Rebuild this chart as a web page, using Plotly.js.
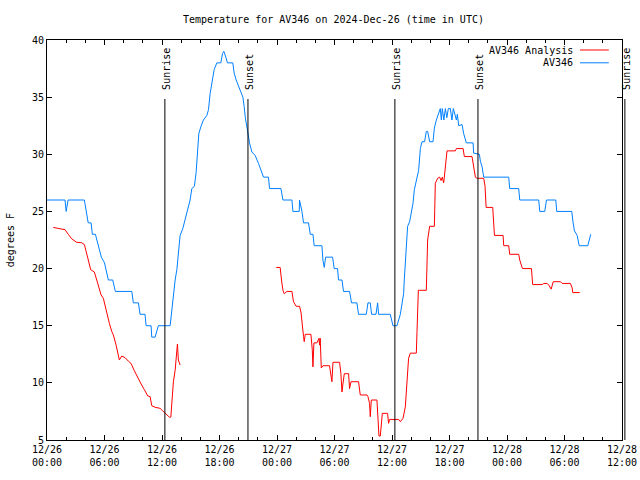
<!DOCTYPE html>
<html>
<head>
<meta charset="utf-8">
<script src="https://cdn.plot.ly/plotly-3.0.1.min.js"></script>
<style>html,body{margin:0;padding:0;background:#fff;}#chart{width:640px;height:480px;}</style>
</head>
<body>
<div id="chart"></div>
<script>
// Hours since 2024-12-26 00:00 UTC and temperatures (deg F)
const obsHours = [0,1.88,2.0,2.2,3.9,4.0,4.3,4.6,4.73,5.05,5.35,5.67,6.0,6.3,6.4,6.86,7.13,8.85,9.01,9.54,9.71,10.23,10.34,10.86,10.93,11.28,11.46,11.62,12.85,13.02,13.13,13.37,13.55,13.65,13.76,13.89,14.17,14.41,14.69,14.93,15.11,15.38,15.56,15.7,15.84,16.05,16.32,16.68,16.85,17.02,17.2,17.44,17.72,18.14,18.31,18.45,18.66,18.83,19.39,19.53,19.74,20.08,20.44,20.57,20.71,20.92,21.13,21.38,21.72,22.07,22.42,22.59,23.11,23.22,24.41,24.62,25.56,25.66,26.32,26.35,26.6,26.77,27.29,27.47,27.75,27.88,28.69,28.79,28.93,29.07,29.8,29.97,30.32,30.42,30.78,30.94,31.57,31.78,32.34,32.51,33.32,33.49,33.73,33.87,34.33,34.5,34.6,35.82,36.1,36.52,36.87,37.21,37.28,37.49,37.63,37.84,38.02,38.19,38.33,38.54,38.78,38.96,39.13,39.4,39.58,39.72,39.93,40.28,40.42,40.63,40.87,41.04,41.15,41.25,41.41,41.57,41.72,41.88,42.09,42.25,42.4,42.56,42.72,42.82,42.96,43.31,43.48,43.76,44.46,44.52,45.12,45.22,45.4,45.57,48.18,48.28,49.22,49.33,51.31,51.42,51.94,52.12,53.09,53.19,54.76,54.9,55.04,55.32,55.53,56.43,56.58,56.74];
const obsTemps = [26,26,25,26,26,25.5,24,24,23,23,22,21,20.5,19.5,19,19,18,18,17,17,16,16,15,15,14,14,14.5,15,15,16.5,17.5,19,19.9,21,22.2,22.9,23.5,24.25,25,26,27,27.2,28.4,30.1,31.8,32.4,33,33.4,33.9,35.3,36.35,37.4,38,38,38.8,39,38.5,38,38,37.1,36.5,35.8,35,34.2,33.1,32.1,31,30.2,29.9,29.2,28.3,28,28,27,27,26,26,25,25,26,25,24,24,23,23,22,22,20.75,20.1,21,21,20,20,19,19,18,18,17,17,16,16,17,17,16,16,17,16,16,15,15,16,17.8,19,21.9,23.7,24.1,24.8,25.7,26.9,27.75,28.6,30.5,31.1,31.1,32,32,31.1,31.1,32.3,33,33.7,34,33,34,33,34,33.2,34,34,33,34,33.5,33,33.5,32.5,32.6,31.8,31,31,30.1,30,29.4,28.9,28,28,27,27,26,26,25,25,26,26,25,25,24,23.3,22.9,22,22,22.5,23];

const anaHours = [0.66,1.36,1.88,2.22,2.58,3.1,3.62,3.9,4.07,4.31,4.56,4.94,5.19,5.46,5.64,5.88,6.06,6.3,6.51,6.76,6.92,7.21,7.42,7.55,7.8,8.15,8.49,8.77,9.09,9.47,9.82,10.16,10.52,10.76,10.93,11.28,11.8,12.08,12.43,12.77,12.92,13.05,13.19,13.37,13.55,13.61,13.71,13.89,18.9,23.92,24.33,24.47,24.62,24.75,25.03,25.56,25.72,26.0,26.35,26.5,26.63,26.77,26.84,26.95,27.54,27.68,27.75,27.85,28.17,28.38,28.44,28.51,28.62,28.79,29.48,29.63,29.73,29.84,30.53,30.67,30.78,30.88,31.02,31.47,31.57,31.72,32.51,32.69,33.39,33.49,33.66,33.73,33.84,34.43,34.54,34.64,34.78,34.88,34.99,35.54,35.64,35.75,36.69,36.87,37.15,37.39,37.57,37.73,37.91,38.54,38.61,38.75,39.58,39.65,39.72,39.93,40.42,40.52,40.76,40.97,41.12,41.25,41.39,41.46,41.64,41.74,42.61,42.72,43.42,43.55,44.35,44.52,44.7,44.88,45.57,45.71,45.74,45.82,46.51,46.61,46.69,47.59,47.66,48.18,48.28,49.22,49.33,49.61,50.55,50.68,51.67,51.84,52.19,52.36,52.61,52.82,53.58,53.76,54.62,54.8,54.86,55.59];
const anaTemps = [23.6,23.5,23.4,23.0,22.6,22.3,22.26,22.1,21.6,20.75,19.9,19.7,19.0,18.3,17.7,17.4,16.7,15.9,15.2,14.5,14.2,13.3,12.6,12.0,12.35,12.2,11.9,11.7,11.1,10.4,9.9,9.4,8.85,8.8,8.0,7.86,7.77,7.54,7.25,7.0,7.0,8.35,10.1,11.1,12.9,13.4,12.0,11.56,null,20.1,20.1,19.0,18.1,17.8,18.0,18.0,17.1,16.7,16.7,16.2,14.8,14.05,13.6,14.25,14.25,12.9,11.4,13.5,13.5,13.9,13.3,13.9,11.3,11.5,11.5,10.5,10.1,11.8,11.8,10.8,9.2,9.9,10.8,10.8,9.5,10.1,10.1,8.94,8.94,8.8,8.2,7.04,8.5,8.5,6.9,5.35,5.35,6.46,7.33,7.33,6.46,6.8,6.8,6.6,6.9,7.9,10.25,12.15,12.6,12.6,14.5,18.1,18.1,20.1,22.5,23.7,23.7,27.46,27.9,28.0,27.7,28.0,27.5,28.0,29.5,30.3,30.3,30.5,30.5,29.8,29.8,29.06,28.0,27.9,27.9,27.2,26.0,25.35,25.35,24.1,22.9,22.9,22.0,22.0,21.25,21.25,20.75,20.0,20.0,18.6,18.6,18.7,18.7,18.55,18.2,18.85,18.85,18.7,18.7,18.3,17.9,17.9];

const sunLabels = ['Sunrise','Sunset','Sunrise','Sunset','Sunrise'];
const sunHours = [12.3,20.97,36.3,44.97,60.3];

const seriesNames = ['AV346 Analysis','AV346'];
const seriesColors = ['#ff0000','#0080ff'];

const xTickLabelsFmt = '%m/%d<br>%H:%M';
const axisStart = '2024-12-26 00:00:00';
const axisEnd = '2024-12-28 12:00:00';
const rangeHours = 60;

const base = Date.UTC(2024, 11, 26);
function toDate(h) {
  return new Date(base + h * 3600000).toISOString().replace('T', ' ').slice(0, 19);
}

const font = 'DejaVu Sans Mono, monospace';

const traces = [
  {x: anaHours.map(toDate), y: anaTemps, type: 'scatter', mode: 'lines',
   line: {color: seriesColors[0], width: 1}, connectgaps: false, name: seriesNames[0], hoverinfo: 'skip'},
  {x: obsHours.map(toDate), y: obsTemps, type: 'scatter', mode: 'lines',
   line: {color: seriesColors[1], width: 1}, name: seriesNames[1], hoverinfo: 'skip'}
];

const shapes = [];
const annotations = [];
sunHours.forEach((h, i) => {
  const px = h / rangeHours;
  shapes.push({type: 'line', xref: 'paper', yref: 'paper', x0: px, x1: px, y0: 0, y1: 0.8525,
               line: {color: '#000', width: 1}});
  annotations.push({xref: 'paper', yref: 'paper', x: px, y: 0.87, xanchor: 'center', yanchor: 'bottom',
                    text: sunLabels[i], textangle: -90, showarrow: false, xshift: 1,
                    font: {family: font, size: 10, color: '#000'}});
});

// legend (text on left, sample on right like the original)
const legY = [0.975, 0.943];
seriesNames.forEach((n, i) => {
  annotations.push({xref: 'paper', yref: 'paper', x: 0.918, y: legY[i], xanchor: 'right', yanchor: 'middle',
                    text: n, showarrow: false, font: {family: font, size: 10, color: '#000'}});
  shapes.push({type: 'line', xref: 'paper', yref: 'paper', x0: 0.927, x1: 0.977, y0: legY[i], y1: legY[i],
               line: {color: seriesColors[i], width: 1}});
});

annotations.push({xref: 'paper', yref: 'paper', x: -0.064, y: 0.5, xanchor: 'center', yanchor: 'middle',
                  text: 'degrees F', textangle: -90, showarrow: false, font: {family: font, size: 10, color: '#000'}});

const layout = {
  width: 640, height: 480,
  margin: {l: 47, r: 18, t: 40, b: 40},
  paper_bgcolor: '#fff', plot_bgcolor: '#fff',
  font: {family: font, size: 10, color: '#000'},
  showlegend: false,
  title: {text: 'Temperature for AV346 on 2024-Dec-26 (time in UTC)', x: 0.521, xanchor: 'center',
          y: 0.96, yref: 'container', yanchor: 'middle', font: {family: font, size: 10, color: '#000'}},
  xaxis: {type: 'date', range: [axisStart, axisEnd], tick0: axisStart, dtick: 6 * 3600000,
          tickformat: xTickLabelsFmt, ticks: 'inside', ticklen: 5, tickcolor: '#000',
          minor: {dtick: 2 * 3600000, tick0: axisStart, ticks: 'inside', ticklen: 3, tickcolor: '#000', showgrid: false},
          showline: true, linecolor: '#000', linewidth: 1, mirror: 'ticks', showgrid: false, zeroline: false,
          tickfont: {family: font, size: 10, color: '#000'}, fixedrange: true},
  yaxis: {range: [5, 40], dtick: 5, tick0: 5, ticks: 'inside', ticklen: 5, tickcolor: '#000',
          showline: true, linecolor: '#000', linewidth: 1, mirror: 'ticks', showgrid: false, zeroline: false,
          tickfont: {family: font, size: 10, color: '#000'}, fixedrange: true},
  shapes: shapes,
  annotations: annotations
};

Plotly.newPlot('chart', traces, layout, {staticPlot: true, displayModeBar: false});
</script>
</body>
</html>
